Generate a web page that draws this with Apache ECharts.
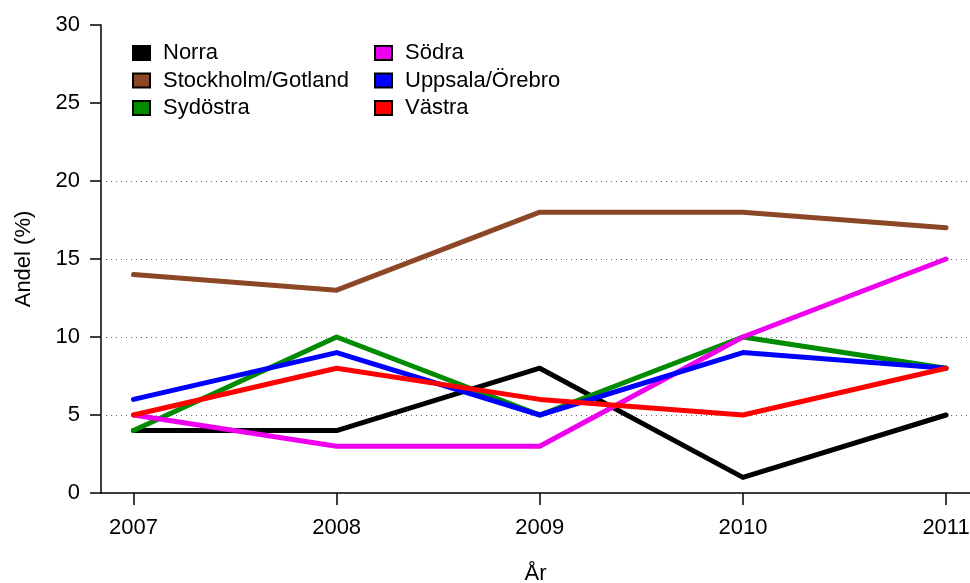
<!DOCTYPE html>
<html>
<head>
<meta charset="utf-8">
<script src="https://cdn.jsdelivr.net/npm/echarts@6/dist/echarts.min.js"></script>
<style>
  html, body { margin: 0; padding: 0; background: #fff; }
  #chart { width: 970px; height: 583px; }
</style>
</head>
<body>
<div id="chart"></div>
<script>
const years = [2007, 2008, 2009, 2010, 2011];
const regions = ['Norra', 'Stockholm/Gotland', 'Sydöstra', 'Södra', 'Uppsala/Örebro', 'Västra'];
const colors = ['#000000', '#8B4726', '#008B00', '#EE00EE', '#0000FF', '#FF0000'];

const norra = [4, 4, 8, 1, 5];
const stockholm = [14, 13, 18, 18, 17];
const sydostra = [4, 10, 5, 10, 8];
const sodra = [5, 3, 3, 10, 15];
const uppsala = [6, 9, 5, 9, 8];
const vastra = [5, 8, 6, 5, 8];
const values = [norra, stockholm, sydostra, sodra, uppsala, vastra];

const gridLines = [5, 10, 15, 20];

const font = 'Liberation Sans, Arial, Helvetica, sans-serif';
const fs = 22;

let chartDiv = document.getElementById('chart');
let myChart = echarts.init(chartDiv, undefined, { renderer: 'canvas' });

let series = regions.map((name, i) => {
  let s = {
    name: name,
    type: 'line',
    data: years.map((y, j) => [y, values[i][j]]),
    symbol: 'none',
    lineStyle: { color: colors[i], width: 5, cap: 'round', join: 'round' },
    itemStyle: { color: colors[i], borderColor: '#000', borderWidth: 1 },
    z: 3 + i,
    animation: false
  };
  if (i === 0) {
    // dotted reference lines
    s.markLine = {
      silent: true,
      symbol: 'none',
      label: { show: false },
      lineStyle: { type: [1, 4], color: '#666', width: 1.2 },
      data: gridLines.map(v => ({ yAxis: v })),
      z: 1
    };
  }
  return s;
});

let legendCommon = {
  orient: 'vertical',
  icon: 'rect',
  itemWidth: 17,
  itemHeight: 14,
  itemGap: 5.5,
  selectedMode: false,
  textStyle: { fontFamily: font, fontSize: fs, color: '#000', padding: [0, 0, 0, 8] }
};

myChart.setOption({
  animation: false,
  backgroundColor: '#fff',
  grid: { left: 101, top: 25, height: 468, right: 0, outerBoundsMode: 'none', containLabel: false },
  legend: [
    Object.assign({ left: 127, top: 37, data: regions.slice(0, 3) }, legendCommon),
    Object.assign({ left: 369, top: 37, data: regions.slice(3) }, legendCommon)
  ],
  xAxis: {
    type: 'value',
    min: 2006.84,
    max: 2011.118,
    splitLine: { show: false },
    axisLine: { lineStyle: { color: '#000', width: 1.5 } },
    axisTick: { customValues: years, length: 12, lineStyle: { color: '#000', width: 1.5 } },
    axisLabel: {
      margin: 24, fontFamily: font, fontSize: fs, color: '#000',
      customValues: years,
      formatter: v => String(v)
    },
    name: 'År',
    nameLocation: 'middle',
    nameGap: 70,
    nameTextStyle: { fontFamily: font, fontSize: fs, color: '#000' }
  },
  yAxis: {
    type: 'value',
    min: 0,
    max: 30,
    interval: 5,
    splitLine: { show: false },
    axisLine: { show: true, lineStyle: { color: '#000', width: 1.5 } },
    axisTick: { show: true, length: 11, lineStyle: { color: '#000', width: 1.5 } },
    axisLabel: { margin: 21, fontFamily: font, fontSize: fs, color: '#000' },
    name: 'Andel (%)',
    nameLocation: 'middle',
    nameGap: 66,
    nameRotate: 90,
    nameTextStyle: { fontFamily: font, fontSize: fs, color: '#000' }
  },
  series: series
});
</script>
</body>
</html>
